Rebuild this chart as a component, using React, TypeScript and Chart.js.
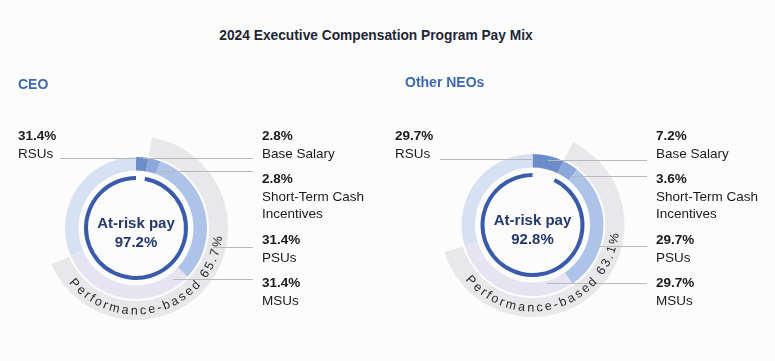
import React, { useEffect, useRef } from "react";
import { Chart, registerables } from "chart.js";

Chart.register(...registerables);

const categories = ["Base Salary", "Short-Term Cash Incentives", "PSUs", "MSUs", "RSUs"];
const ceoValues = [2.8, 2.8, 31.4, 31.4, 31.4];
const neoValues = [7.2, 3.6, 29.7, 29.7, 29.7];
const panelTitles = ["CEO", "Other NEOs"];
const atRiskPct = [97.2, 92.8];
const perfBasedPct = [65.7, 63.1];
const chartTitle = "2024 Executive Compensation Program Pay Mix";

const W = 775;
const H = 361;
const FONT = "'Liberation Sans', Arial, Helvetica, sans-serif";
const segColors = ["#6c8dca", "#8ba8dc", "#adc3e7", "#e7e4f2", "#d6e2f4"];
const grayBand = "#e8e8ea";
const innerBlue = "#3a5bab";
const leaderColor = "#b8b8b8";

type PanelGeom = {
  cx: number;
  cy: number;
  leftX: number;
  rightX: number;
  titleX: number;
  titleY: number;
  lines: { y: number; x1: number; x2: number }[];
  tops: number[];
};

const panels: PanelGeom[] = [
  {
    cx: 136,
    cy: 228,
    leftX: 18,
    rightX: 262,
    titleX: 18,
    titleY: 84,
    lines: [
      { y: 158, x1: 143, x2: 253 },
      { y: 171, x1: 155, x2: 253 },
      { y: 247, x1: 213, x2: 253 },
      { y: 279, x1: 173, x2: 253 },
      { y: 158, x1: 60, x2: 137 },
    ],
    tops: [127, 170, 231, 274, 127],
  },
  {
    cx: 532.5,
    cy: 225,
    leftX: 395,
    rightX: 656,
    titleX: 405,
    titleY: 82,
    lines: [
      { y: 160, x1: 548, x2: 647 },
      { y: 176, x1: 572, x2: 647 },
      { y: 246, x1: 598, x2: 647 },
      { y: 283, x1: 547, x2: 647 },
      { y: 159, x1: 440, x2: 532 },
    ],
    tops: [127, 170, 231, 274, 127],
  },
];

function DonutPanel({ idx, values }: { idx: number; values: number[] }) {
  const ref = useRef<HTMLCanvasElement | null>(null);
  const g = panels[idx];

  useEffect(() => {
    if (!ref.current) return;
    const perf = values[1] + values[2] + values[3];
    const atRisk = values[1] + values[2] + values[3] + values[4];
    const overlay = {
      id: "overlay" + idx,
      afterDraw(chart: any) {
        const ctx = chart.ctx;
        const arc = chart.getDatasetMeta(2).data[0];
        const cx = arc.x;
        const cy = arc.y;
        ctx.save();
        ctx.strokeStyle = leaderColor;
        ctx.lineWidth = 1;
        g.lines.forEach((l) => {
          ctx.beginPath();
          ctx.moveTo(l.x1, Math.round(l.y) + 0.5);
          ctx.lineTo(l.x2, Math.round(l.y) + 0.5);
          ctx.stroke();
        });
        const text = `Performance-based ${perfBasedPct[idx]}%`;
        ctx.font = `12.5px ${FONT}`;
        ctx.fillStyle = "#2b2b2b";
        ctx.textAlign = "center";
        ctx.textBaseline = "alphabetic";
        const spacing = 2.05;
        const rMid = 82;
        const rBase = 86.5;
        const chars = Array.from(text);
        const widths = chars.map((c) => ctx.measureText(c).width);
        const start = (231 * Math.PI) / 180;
        let acc = 0;
        chars.forEach((c, i) => {
          const a = start - (acc + widths[i] / 2) / rMid;
          acc += widths[i] + spacing;
          const x = cx + rBase * Math.sin(a);
          const y = cy - rBase * Math.cos(a);
          ctx.save();
          ctx.translate(x, y);
          ctx.rotate(a - Math.PI);
          ctx.fillText(c, 0, 0);
          ctx.restore();
        });
        ctx.restore();
      },
    };

    const chart = new Chart(ref.current, {
      type: "doughnut",
      data: {
        labels: categories,
        datasets: [
          {
            data: [values[0], perf, values[4]],
            backgroundColor: ["rgba(0,0,0,0)", grayBand, "rgba(0,0,0,0)"],
            borderWidth: 0,
            weight: 19,
          },
          {
            data: [1],
            backgroundColor: ["rgba(0,0,0,0)"],
            borderWidth: 0,
            weight: 2,
          },
          {
            data: values,
            backgroundColor: segColors,
            borderWidth: 0,
            weight: 13.5,
          },
          {
            data: [1],
            backgroundColor: ["rgba(0,0,0,0)"],
            borderWidth: 0,
            weight: 5.5,
          },
          {
            data: [values[0], atRisk],
            backgroundColor: ["rgba(0,0,0,0)", innerBlue],
            borderWidth: 0,
            weight: 4,
          },
        ],
      } as any,
      options: {
        responsive: false,
        animation: false,
        events: [],
        radius: 92,
        cutout: `${(48 / 92) * 100}%`,
        layout: {
          padding: {
            left: g.cx - 100,
            right: W - g.cx - 100,
            top: g.cy - 100,
            bottom: H - g.cy - 100,
          },
        },
        plugins: {
          legend: { display: false },
          tooltip: { enabled: false },
          title: { display: false },
        },
      } as any,
      plugins: [overlay],
    });
    return () => chart.destroy();
  }, [idx, values]);

  const labelStyle = (x: number, top: number): React.CSSProperties => ({
    position: "absolute",
    left: x,
    top,
    width: 120,
    fontSize: 13.5,
    lineHeight: "17.5px",
    color: "#1a1a1a",
    fontFamily: FONT,
  });

  return (
    <>
      <canvas
        ref={ref}
        width={W}
        height={H}
        style={{ position: "absolute", left: 0, top: 0, width: W, height: H }}
      />
      <div
        style={{
          position: "absolute",
          left: g.titleX,
          top: g.titleY - 9,
          fontSize: 14,
          lineHeight: "18px",
          fontWeight: "bold",
          color: "#3e67b3",
          fontFamily: FONT,
          whiteSpace: "nowrap",
        }}
      >
        {panelTitles[idx]}
      </div>
      {categories.map((c, i) => (
        <div key={c} style={labelStyle(i === 4 ? g.leftX : g.rightX, g.tops[i])}>
          <div style={{ fontWeight: "bold" }}>{values[i]}%</div>
          <div>{c}</div>
        </div>
      ))}
      <div
        style={{
          position: "absolute",
          left: g.cx - 60,
          top: g.cy - 6 - 8,
          width: 120,
          textAlign: "center",
          fontSize: 15,
          lineHeight: "18.5px",
          fontWeight: "bold",
          color: "#24386f",
          fontFamily: FONT,
        }}
      >
        <div>At-risk pay</div>
        <div>{atRiskPct[idx]}%</div>
      </div>
    </>
  );
}

export default function App() {
  return (
    <div
      style={{
        position: "absolute",
        left: 0,
        top: 0,
        width: W,
        height: H,
        background: "#fcfcfd",
        overflow: "hidden",
        fontFamily: FONT,
      }}
    >
      <div
        style={{
          position: "absolute",
          left: 376 - 300,
          top: 27,
          width: 600,
          textAlign: "center",
          fontSize: 13.75,
          lineHeight: "18px",
          fontWeight: "bold",
          color: "#1f2633",
          fontFamily: FONT,
          whiteSpace: "nowrap",
        }}
      >
        {chartTitle}
      </div>
      <DonutPanel idx={0} values={ceoValues} />
      <DonutPanel idx={1} values={neoValues} />
    </div>
  );
}
